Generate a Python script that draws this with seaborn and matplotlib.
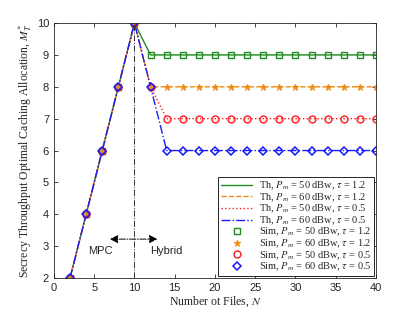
import numpy as np
import pandas as pd
import matplotlib
matplotlib.use("Agg")
import matplotlib.pyplot as plt
import seaborn as sns

# Data
n_files = [2, 4, 6, 8, 10, 12, 14, 16, 18, 20, 22, 24, 26, 28, 30, 32, 34, 36, 38, 40]
m_50_12 = [2, 4, 6, 8, 10, 9, 9, 9, 9, 9, 9, 9, 9, 9, 9, 9, 9, 9, 9, 9]
m_60_12 = [2, 4, 6, 8, 10, 8, 8, 8, 8, 8, 8, 8, 8, 8, 8, 8, 8, 8, 8, 8]
m_50_05 = [2, 4, 6, 8, 10, 8, 7, 7, 7, 7, 7, 7, 7, 7, 7, 7, 7, 7, 7, 7]
m_60_05 = [2, 4, 6, 8, 10, 8, 6, 6, 6, 6, 6, 6, 6, 6, 6, 6, 6, 6, 6, 6]

series = [
    (m_50_12, r"$P_m$ = 50 dBw, $\tau$ = 1.2", "#1f8a1f", "-", "s"),
    (m_60_12, r"$P_m$ = 60 dBw, $\tau$ = 1.2", "#ee8a12", "--", "*"),
    (m_50_05, r"$P_m$ = 50 dBw, $\tau$ = 0.5", "#ff1a1a", ":", "o"),
    (m_60_05, r"$P_m$ = 60 dBw, $\tau$ = 0.5", "#1a1aff", "-.", "D"),
]

sns.set_style("ticks")
plt.rcParams["font.family"] = ["Liberation Sans", "DejaVu Sans"]
plt.rcParams["mathtext.fontset"] = "stix"

fig = plt.figure(figsize=(4.15, 3.12), dpi=100)
ax = fig.add_axes([0.130, 0.109, 0.776, 0.817])

serif = ["Liberation Serif", "DejaVu Serif"]

# Theory lines
for vals, lab, col, ls, mk in series:
    df = pd.DataFrame({"N": n_files, "M": vals})
    sns.lineplot(data=df, x="N", y="M", ax=ax, color=col, linestyle=ls,
                 linewidth=1.0, label="Th, " + lab)

# Simulation markers
for vals, lab, col, ls, mk in series:
    df = pd.DataFrame({"N": n_files, "M": vals})
    if mk == "*":
        kw = dict(markerfacecolor=col, markeredgecolor=col, markersize=5)
    elif mk == "D":
        kw = dict(markerfacecolor="none", markeredgecolor=col, markersize=3.8,
                  markeredgewidth=1.1)
    elif mk == "s":
        kw = dict(markerfacecolor="none", markeredgecolor=col, markersize=4.2,
                  markeredgewidth=1.0)
    else:
        kw = dict(markerfacecolor="none", markeredgecolor=col, markersize=5,
                  markeredgewidth=1.0)
    sns.lineplot(data=df, x="N", y="M", ax=ax, color=col, linestyle="",
                 marker=mk, label="Sim, " + lab, **kw)

# Boundary between regimes
ax.plot([10, 10], [2, 10], color="#333333", linestyle="-.", linewidth=0.7)
ax.annotate("", xy=(6.6, 3.22), xytext=(13.2, 3.22),
            arrowprops=dict(arrowstyle="<|-|>", linestyle="-.", color="black",
                            linewidth=0.7, mutation_scale=12))
ax.text(5.8, 2.85, "MPC", fontsize=8, ha="center", va="center")
ax.text(14.0, 2.85, "Hybrid", fontsize=8, ha="center", va="center")

ax.set_xlim(0, 40)
ax.set_ylim(2, 10)
ax.set_xticks([0, 5, 10, 15, 20, 25, 30, 35, 40])
ax.set_yticks([2, 3, 4, 5, 6, 7, 8, 9, 10])
ax.tick_params(direction="in", top=True, right=True, labelsize=8,
               length=3, width=0.6, colors="#262626")
for s in ax.spines.values():
    s.set_linewidth(0.6)
    s.set_color("#262626")

ax.set_xlabel(r"Number ot Files, $N$", fontsize=8.5, family=serif, labelpad=1)
ax.set_ylabel(r"Secrecy Throughput Optimal Caching Allocation, $M_T^{*}$",
              fontsize=8.5, family=serif, labelpad=2)

leg = ax.legend(loc="lower right", prop={"family": serif, "size": 7.5},
                frameon=True, fancybox=False, edgecolor="black", framealpha=1,
                borderaxespad=0.15, handlelength=3.0, labelspacing=-0.08,
                borderpad=0.3, handletextpad=0.6)
leg.get_frame().set_linewidth(0.6)

fig.savefig("out.png", dpi=100)
